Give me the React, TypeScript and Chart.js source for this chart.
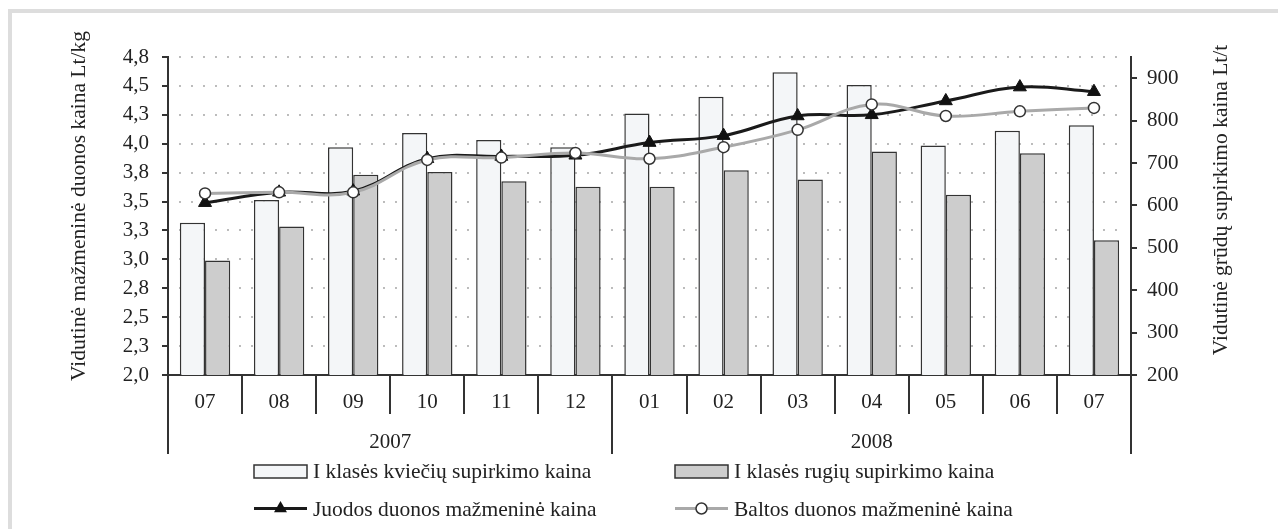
import React, { useEffect, useRef } from 'react';
import { Chart, registerables } from 'chart.js';

Chart.register(...registerables);

// ---- data ----
const MONTHS = ['07', '08', '09', '10', '11', '12', '01', '02', '03', '04', '05', '06', '07'];
const YEARS = ['2007', '2008'];
const YEAR_MONTH_COUNTS = [6, 7];

const WHEAT_PRICE = [559, 613, 737, 771, 754, 737, 817, 856, 914, 884, 741, 776, 789];
const RYE_PRICE = [470, 550, 672, 679, 657, 644, 644, 683, 661, 727, 625, 723, 518];
const BLACK_BREAD = [3.49, 3.58, 3.59, 3.87, 3.89, 3.9, 4.01, 4.07, 4.24, 4.25, 4.37, 4.49, 4.45];
const WHITE_BREAD = [3.57, 3.58, 3.58, 3.86, 3.88, 3.92, 3.87, 3.97, 4.12, 4.34, 4.24, 4.28, 4.31];

const LEFT_TICKS = [2, 2.25, 2.5, 2.75, 3, 3.25, 3.5, 3.75, 4, 4.25, 4.5, 4.75];
const RIGHT_TICKS = [200, 300, 400, 500, 600, 700, 800, 900];

const SERIES_LABELS = [
  'I klasės kviečių supirkimo kaina',
  'I klasės rugių supirkimo kaina',
  'Juodos duonos mažmeninė kaina',
  'Baltos duonos mažmeninė kaina',
];
const LEFT_TITLE = 'Vidutinė mažmeninė duonos kaina Lt/kg';
const RIGHT_TITLE = 'Vidutinė grūdų supirkimo kaina Lt/t';

// ---- styles ----
const FAMILY = "'Liberation Serif', 'Times New Roman', serif";
const FONT = `21px ${FAMILY}`;
const BIG_FONT = `21.5px ${FAMILY}`;
const INK = '#222222';
const LINE = '#333333';
const WHEAT_FILL = '#f4f6f8';
const RYE_FILL = '#cdcdcd';
const BLACK_LINE = '#1a1a1a';
const GRAY_LINE = '#a9a9a9';

function drawTriangle(ctx: CanvasRenderingContext2D, x: number, y: number, r: number) {
  ctx.beginPath();
  for (let k = 0; k < 3; k++) {
    const ang = (k * 2 * Math.PI) / 3;
    const px = x + Math.sin(ang) * r;
    const py = y - Math.cos(ang) * r;
    if (k === 0) ctx.moveTo(px, py);
    else ctx.lineTo(px, py);
  }
  ctx.closePath();
  ctx.fill();
}

const decoPlugin = {
  id: 'deco',
  beforeDraw(chart: any) {
    const ctx = chart.ctx as CanvasRenderingContext2D;
    ctx.save();
    ctx.fillStyle = '#dddddd';
    ctx.fillRect(8, 9, chart.width - 8, 4);
    ctx.fillRect(8, 9, 4, chart.height - 9);
    ctx.restore();
  },
  beforeDatasetsDraw(chart: any) {
    const ctx = chart.ctx as CanvasRenderingContext2D;
    const a = chart.chartArea;
    const y = chart.scales.y;
    ctx.save();
    ctx.strokeStyle = '#a6a6a6';
    ctx.lineWidth = 2;
    ctx.lineCap = 'round';
    ctx.setLineDash([0, 12]);
    LEFT_TICKS.forEach((v, i) => {
      if (i === 0) return;
      const py = Math.round(y.getPixelForValue(v));
      ctx.beginPath();
      ctx.moveTo(a.left + 12, py);
      ctx.lineTo(a.right - 4, py);
      ctx.stroke();
    });
    ctx.restore();
  },
  afterDraw(chart: any) {
    const ctx = chart.ctx as CanvasRenderingContext2D;
    const a = chart.chartArea;
    const x = chart.scales.x;
    const n = MONTHS.length;
    const bounds: number[] = [];
    for (let i = 0; i <= n; i++) {
      if (i === 0) bounds.push(a.left);
      else if (i === n) bounds.push(a.right);
      else bounds.push((x.getPixelForValue(i - 1) + x.getPixelForValue(i)) / 2);
    }
    const yearEdges = [0];
    YEAR_MONTH_COUNTS.forEach((c) => yearEdges.push(yearEdges[yearEdges.length - 1] + c));

    ctx.save();
    ctx.strokeStyle = LINE;
    ctx.lineWidth = 2;
    bounds.forEach((bx, i) => {
      const long = yearEdges.includes(i);
      const px = Math.round(bx);
      ctx.beginPath();
      ctx.moveTo(px, a.bottom);
      ctx.lineTo(px, a.bottom + (long ? 79 : 39));
      ctx.stroke();
    });

    ctx.fillStyle = INK;
    ctx.font = FONT;
    ctx.textAlign = 'center';
    ctx.textBaseline = 'alphabetic';
    MONTHS.forEach((m, i) => {
      ctx.fillText(m, x.getPixelForValue(i), a.bottom + 33);
    });
    YEARS.forEach((yr, k) => {
      const cx = (bounds[yearEdges[k]] + bounds[yearEdges[k + 1]]) / 2;
      ctx.fillText(yr, cx, a.bottom + 73);
    });

    // axis titles
    ctx.font = BIG_FONT;
    ctx.textBaseline = 'middle';
    ctx.save();
    ctx.translate(79, 206);
    ctx.rotate(-Math.PI / 2);
    ctx.fillText(LEFT_TITLE, 0, 0);
    ctx.restore();
    ctx.save();
    ctx.translate(1221, 200);
    ctx.rotate(-Math.PI / 2);
    ctx.fillText(RIGHT_TITLE, 0, 0);
    ctx.restore();

    // legend
    const cols = [254, 675];
    const rows = [471.5, 508.5];
    const baselines = [478, 516];
    const ds = chart.data.datasets;
    ds.forEach((d: any, i: number) => {
      const col = i % 2;
      const row = Math.floor(i / 2);
      const sx = cols[col];
      const cy = rows[row];
      if (d.type === 'bar') {
        ctx.fillStyle = d.backgroundColor;
        ctx.fillRect(sx, cy - 6.5, 53, 13);
        ctx.strokeStyle = LINE;
        ctx.lineWidth = 1.5;
        ctx.strokeRect(sx, cy - 6.5, 53, 13);
      } else {
        ctx.strokeStyle = d.borderColor;
        ctx.lineWidth = 3;
        ctx.beginPath();
        ctx.moveTo(sx, cy);
        ctx.lineTo(sx + 53, cy);
        ctx.stroke();
        if (d.pointStyle === 'triangle') {
          ctx.fillStyle = d.pointBackgroundColor;
          drawTriangle(ctx, sx + 26.5, cy, 7.5);
        } else {
          ctx.beginPath();
          ctx.arc(sx + 26.5, cy, 5.5, 0, Math.PI * 2);
          ctx.fillStyle = '#ffffff';
          ctx.fill();
          ctx.strokeStyle = d.pointBorderColor;
          ctx.lineWidth = 1.5;
          ctx.stroke();
        }
      }
      ctx.fillStyle = INK;
      ctx.font = BIG_FONT;
      ctx.textAlign = 'left';
      ctx.textBaseline = 'alphabetic';
      ctx.fillText(d.label, sx + 59, baselines[row]);
    });
    ctx.restore();
  },
};

const fmtLeft = (v: number) => (Math.round(v * 10) / 10).toFixed(1).replace('.', ',');

export default function App() {
  const ref = useRef<HTMLCanvasElement>(null);

  useEffect(() => {
    if (!ref.current) return;
    const chart = new Chart(ref.current, {
      type: 'bar',
      data: {
        labels: MONTHS,
        datasets: [
          {
            type: 'bar',
            label: SERIES_LABELS[0],
            data: WHEAT_PRICE,
            yAxisID: 'y1',
            backgroundColor: WHEAT_FILL,
            borderColor: LINE,
            borderWidth: 1.5,
            categoryPercentage: 0.68,
            barPercentage: 1,
            order: 3,
          },
          {
            type: 'bar',
            label: SERIES_LABELS[1],
            data: RYE_PRICE,
            yAxisID: 'y1',
            backgroundColor: RYE_FILL,
            borderColor: LINE,
            borderWidth: 1.5,
            categoryPercentage: 0.68,
            barPercentage: 1,
            order: 4,
          },
          {
            type: 'line',
            label: SERIES_LABELS[2],
            data: BLACK_BREAD,
            yAxisID: 'y',
            borderColor: BLACK_LINE,
            borderWidth: 3,
            tension: 0.4,
            pointStyle: 'triangle',
            pointRadius: 7.5,
            pointBackgroundColor: '#111111',
            pointBorderColor: '#111111',
            pointBorderWidth: 1,
            order: 2,
          },
          {
            type: 'line',
            label: SERIES_LABELS[3],
            data: WHITE_BREAD,
            yAxisID: 'y',
            borderColor: GRAY_LINE,
            borderWidth: 3,
            tension: 0.4,
            pointStyle: 'circle',
            pointRadius: 5.5,
            pointBackgroundColor: '#ffffff',
            pointBorderColor: LINE,
            pointBorderWidth: 1.5,
            order: 1,
          },
        ] as any,
      },
      options: {
        responsive: false,
        animation: false,
        events: [],
        layout: { padding: { top: 57, left: 0, right: 0, bottom: 0 } },
        plugins: { legend: { display: false }, tooltip: { enabled: false } },
        scales: {
          x: {
            type: 'category',
            offset: true,
            ticks: { display: false },
            grid: { display: false },
            border: { display: true, color: LINE, width: 2 },
            afterFit: (s: any) => {
              s.height = 154;
            },
          },
          y: {
            type: 'linear',
            position: 'left',
            min: 2,
            max: 4.75,
            afterBuildTicks: (axis: any) => {
              axis.ticks = LEFT_TICKS.map((v) => ({ value: v }));
            },
            ticks: {
              padding: 13,
              color: INK,
              font: { family: FAMILY, size: 21 },
              callback: (v: any) => fmtLeft(Number(v)),
            },
            grid: { drawOnChartArea: false, drawTicks: true, tickLength: 6, color: LINE, lineWidth: 2 },
            border: { display: true, color: LINE, width: 2 },
            afterFit: (s: any) => {
              s.width = 168;
            },
          },
          y1: {
            type: 'linear',
            position: 'right',
            min: 200,
            max: 950,
            afterBuildTicks: (axis: any) => {
              axis.ticks = RIGHT_TICKS.map((v) => ({ value: v }));
            },
            ticks: {
              padding: 10,
              color: INK,
              font: { family: FAMILY, size: 21 },
              callback: (v: any) => String(v),
            },
            grid: { drawOnChartArea: false, drawTicks: true, tickLength: 6, color: LINE, lineWidth: 2 },
            border: { display: true, color: LINE, width: 2 },
            afterFit: (s: any) => {
              s.width = 147;
            },
          },
        },
      } as any,
      plugins: [decoPlugin as any],
    });
    return () => chart.destroy();
  }, []);

  return (
    <div style={{ position: 'absolute', left: 0, top: 0, width: 1278, height: 529, background: '#ffffff' }}>
      <canvas ref={ref} width={1278} height={529} style={{ display: 'block' }} />
    </div>
  );
}
